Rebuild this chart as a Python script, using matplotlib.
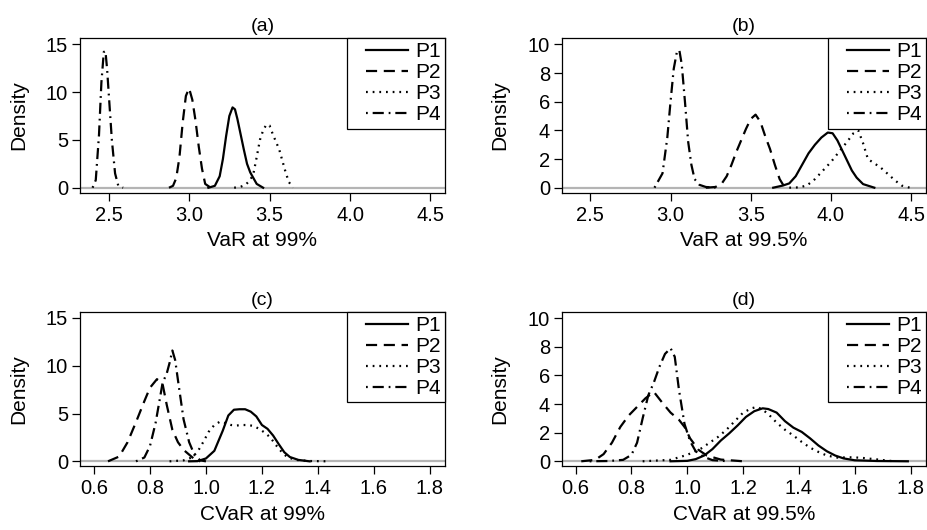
import matplotlib
matplotlib.use("Agg")
import matplotlib.pyplot as plt
from matplotlib.legend_handler import HandlerLine2D

plt.rcParams["font.family"] = ["Liberation Sans", "DejaVu Sans"]

# (a) VaR at 99%
a_p1_x = [3.12, 3.16, 3.19, 3.21, 3.23, 3.25, 3.27, 3.285, 3.30, 3.32, 3.34, 3.36, 3.38, 3.40, 3.42, 3.46]
a_p1_y = [0, 0.2, 1.2, 3.0, 5.4, 7.5, 8.4, 8.2, 7.2, 5.6, 4.0, 2.5, 1.6, 1.0, 0.4, 0]
a_p2_x = [2.875, 2.90, 2.92, 2.94, 2.96, 2.98, 3.00, 3.02, 3.04, 3.06, 3.08, 3.10, 3.13, 3.16]
a_p2_y = [0, 0.2, 1.0, 3.2, 6.8, 9.6, 10.4, 9.2, 7.0, 4.3, 2.0, 0.4, 0.05, 0]
a_p3_x = [3.28, 3.32, 3.35, 3.38, 3.40, 3.42, 3.44, 3.46, 3.48, 3.50, 3.52, 3.54, 3.56, 3.58, 3.60, 3.62, 3.645]
a_p3_y = [0, 0.1, 0.3, 0.8, 1.5, 3.2, 5.0, 6.0, 6.6, 6.5, 5.6, 4.8, 4.0, 2.8, 1.6, 0.6, 0]
a_p4_x = [2.40, 2.42, 2.44, 2.455, 2.47, 2.48, 2.49, 2.50, 2.52, 2.54, 2.56, 2.59]
a_p4_y = [0, 0.8, 5.5, 11.0, 14.2, 14.3, 12.5, 10.0, 5.0, 1.5, 0.2, 0]

# (b) VaR at 99.5%
b_p1_x = [3.64, 3.70, 3.74, 3.78, 3.82, 3.86, 3.90, 3.94, 3.98, 4.01, 4.04, 4.07, 4.10, 4.13, 4.16, 4.20, 4.27]
b_p1_y = [0, 0.15, 0.3, 0.8, 1.6, 2.4, 3.0, 3.5, 3.85, 3.8, 3.3, 2.6, 1.9, 1.2, 0.7, 0.25, 0]
b_p2_x = [3.22, 3.28, 3.32, 3.35, 3.38, 3.41, 3.44, 3.47, 3.50, 3.53, 3.56, 3.59, 3.62, 3.65, 3.68, 3.71]
b_p2_y = [0, 0.05, 0.3, 0.8, 1.6, 2.5, 3.3, 4.1, 4.8, 5.1, 4.6, 3.6, 2.7, 1.6, 0.6, 0.05]
b_p3_x = [3.74, 3.80, 3.85, 3.90, 3.95, 4.00, 4.05, 4.10, 4.14, 4.17, 4.20, 4.23, 4.27, 4.31, 4.35, 4.40, 4.44, 4.49]
b_p3_y = [0, 0.02, 0.15, 0.6, 1.2, 1.8, 2.5, 3.2, 3.8, 4.0, 3.1, 2.0, 1.7, 1.4, 1.0, 0.5, 0.15, 0]
b_p4_x = [2.90, 2.95, 2.98, 3.00, 3.02, 3.04, 3.055, 3.07, 3.09, 3.11, 3.13, 3.15, 3.18, 3.22, 3.28]
b_p4_y = [0, 1.0, 3.5, 6.0, 8.3, 9.5, 9.6, 8.6, 6.0, 3.2, 1.6, 0.6, 0.2, 0.05, 0]

# (c) CVaR at 99%
c_p1_x = [0.94, 0.97, 1.00, 1.03, 1.06, 1.08, 1.10, 1.12, 1.14, 1.16, 1.18, 1.20, 1.22, 1.24, 1.26, 1.28, 1.30, 1.33, 1.37]
c_p1_y = [0, 0.02, 0.3, 1.1, 3.2, 4.8, 5.4, 5.45, 5.45, 5.2, 4.7, 3.8, 3.4, 2.7, 1.8, 0.95, 0.45, 0.15, 0]
c_p2_x = [0.65, 0.69, 0.72, 0.75, 0.78, 0.80, 0.825, 0.845, 0.86, 0.88, 0.90, 0.92, 0.94, 0.96, 0.98]
c_p2_y = [0, 0.5, 2.0, 4.1, 6.3, 7.7, 8.6, 8.1, 5.9, 3.3, 2.0, 1.2, 0.7, 0.2, 0]
c_p3_x = [0.87, 0.92, 0.95, 0.97, 0.99, 1.01, 1.03, 1.05, 1.07, 1.09, 1.11, 1.13, 1.15, 1.17, 1.19, 1.21,
          1.23, 1.25, 1.27, 1.29, 1.32, 1.37, 1.44]
c_p3_y = [0, 0.1, 0.4, 1.0, 2.0, 3.1, 3.8, 4.15, 4.0, 3.8, 3.75, 3.8, 3.8, 3.7, 3.4, 3.0,
          2.5, 1.7, 1.0, 0.45, 0.15, 0.03, 0]
c_p4_x = [0.75, 0.78, 0.80, 0.82, 0.835, 0.845, 0.86, 0.87, 0.88, 0.89, 0.90, 0.92, 0.94, 0.96, 0.98, 1.00]
c_p4_y = [0, 0.4, 1.6, 4.0, 6.5, 8.2, 9.2, 10.3, 11.6, 10.6, 8.5, 4.4, 2.0, 0.6, 0.1, 0]

# (d) CVaR at 99.5%
d_p1_x = [0.94, 1.00, 1.03, 1.06, 1.09, 1.12, 1.15, 1.18, 1.21, 1.24, 1.27, 1.29, 1.32, 1.35, 1.38, 1.41,
          1.44, 1.47, 1.50, 1.53, 1.56, 1.60, 1.68, 1.79]
d_p1_y = [0, 0.03, 0.15, 0.4, 0.85, 1.45, 1.95, 2.5, 3.1, 3.5, 3.7, 3.65, 3.4, 2.8, 2.35, 2.05,
          1.6, 1.1, 0.7, 0.4, 0.2, 0.07, 0.02, 0]
d_p2_x = [0.62, 0.67, 0.70, 0.73, 0.76, 0.79, 0.82, 0.85, 0.88, 0.91, 0.94, 0.97, 0.99, 1.01, 1.04, 1.07, 1.12, 1.20]
d_p2_y = [0, 0.1, 0.5, 1.3, 2.4, 3.2, 3.8, 4.4, 4.85, 4.1, 3.4, 2.9, 2.4, 1.6, 0.8, 0.4, 0.12, 0]
d_p3_x = [0.84, 0.94, 1.00, 1.05, 1.08, 1.11, 1.14, 1.17, 1.20, 1.23, 1.25, 1.27, 1.29, 1.32, 1.35, 1.38,
          1.41, 1.44, 1.47, 1.50, 1.54, 1.58, 1.62, 1.67, 1.74]
d_p3_y = [0, 0.1, 0.45, 0.9, 1.3, 1.7, 2.2, 2.8, 3.4, 3.7, 3.8, 3.6, 3.3, 2.7, 2.2, 1.8,
          1.35, 0.95, 0.65, 0.4, 0.25, 0.28, 0.25, 0.15, 0]
d_p4_x = [0.65, 0.72, 0.77, 0.80, 0.82, 0.84, 0.86, 0.88, 0.90, 0.92, 0.94, 0.955, 0.97, 0.99, 1.01, 1.03,
          1.06, 1.09, 1.15]
d_p4_y = [0, 0.02, 0.1, 0.45, 1.3, 3.0, 4.6, 5.5, 6.6, 7.5, 7.9, 7.3, 5.0, 2.6, 1.4, 0.7,
          0.3, 0.08, 0]

labels = ["P1", "P2", "P3", "P4"]
titles = ["(a)", "(b)", "(c)", "(d)"]
xlabels = ["VaR at 99%", "VaR at 99.5%", "CVaR at 99%", "CVaR at 99.5%"]
xticks_var = [2.5, 3.0, 3.5, 4.0, 4.5]
xticks_cvar = [0.6, 0.8, 1.0, 1.2, 1.4, 1.6, 1.8]
yticks_99 = [0, 5, 10, 15]
yticks_995 = [0, 2, 4, 6, 8, 10]

panels = [
    ([(a_p1_x, a_p1_y), (a_p2_x, a_p2_y), (a_p3_x, a_p3_y), (a_p4_x, a_p4_y)],
     [0.0862, 0.6364, 0.3933, 0.2919], (2.322, 4.59), (-0.52, 15.66), xticks_var, yticks_99),
    ([(b_p1_x, b_p1_y), (b_p2_x, b_p2_y), (b_p3_x, b_p3_y), (b_p4_x, b_p4_y)],
     [0.6053, 0.6364, 0.3922, 0.2919], (2.322, 4.59), (-0.35, 10.45), xticks_var, yticks_995),
    ([(c_p1_x, c_p1_y), (c_p2_x, c_p2_y), (c_p3_x, c_p3_y), (c_p4_x, c_p4_y)],
     [0.0862, 0.1202, 0.3933, 0.2917], (0.55, 1.854), (-0.52, 15.66), xticks_cvar, yticks_99),
    ([(d_p1_x, d_p1_y), (d_p2_x, d_p2_y), (d_p3_x, d_p3_y), (d_p4_x, d_p4_y)],
     [0.6053, 0.1202, 0.3922, 0.2917], (0.55, 1.854), (-0.35, 10.45), xticks_cvar, yticks_995),
]

styles = ["-", (0, (5, 3)), (0, (0.8, 2.2)), (0, (0.8, 2.2, 5, 2.2))]


class PaddedLine(HandlerLine2D):
    # leave some blank space on the left of each legend sample, like R does
    def get_xdata(self, legend, xdescent, ydescent, width, height, fontsize):
        pad = 0.26 * width
        return [-xdescent + pad, -xdescent + width], [-xdescent + 0.5 * width]


fig = plt.figure(figsize=(9.28, 5.3), dpi=100)

for i, (curves, pos, xl, yl, xt, yt) in enumerate(panels):
    ax = fig.add_axes(pos)
    ax.axhline(0, color="#b4b4b4", lw=1.6, zorder=1)
    handles = []
    for (x, y), ls, lab in zip(curves, styles, labels):
        ln, = ax.plot(x, y, color="black", lw=1.6, ls=ls, label=lab, zorder=2,
                      dash_capstyle="butt", solid_joinstyle="round")
        handles.append(ln)
    ax.set_xlim(*xl)
    ax.set_ylim(*yl)
    ax.set_xticks(xt)
    ax.set_xticklabels([f"{v:.1f}" for v in xt])
    ax.set_yticks(yt)
    ax.tick_params(direction="out", length=5.5, width=0.9, labelsize=14.5, pad=3, colors="black")
    ax.tick_params(axis="x", pad=4)
    for s in ax.spines.values():
        s.set_linewidth(0.9)
    ax.set_title(titles[i], fontsize=14, pad=5)
    ax.set_xlabel(xlabels[i], fontsize=15, labelpad=4.5)
    ax.set_ylabel("Density", fontsize=15, labelpad=13)
    leg = ax.legend(handles=handles, loc="upper right", borderaxespad=0, fancybox=False, framealpha=1,
                    edgecolor="black", fontsize=15, handlelength=2.7, handletextpad=0.35,
                    labelspacing=0.1, borderpad=0.2,
                    handler_map={h: PaddedLine() for h in handles})
    leg.get_frame().set_linewidth(0.9)

fig.savefig("out.png", dpi=100)
